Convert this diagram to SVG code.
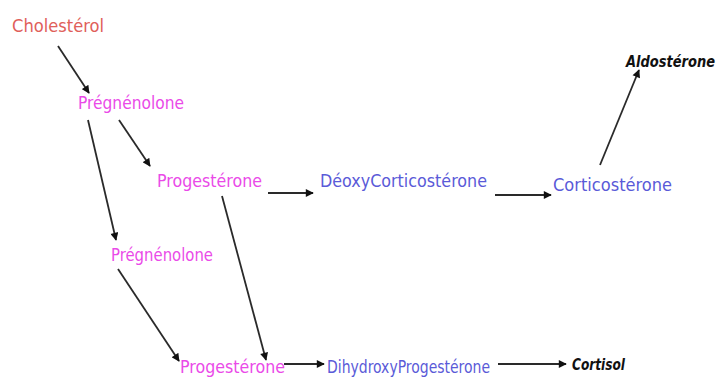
<svg xmlns="http://www.w3.org/2000/svg" width="722" height="384" viewBox="0 0 722 384">
  <style>
    .t { font-family: "DejaVu Sans Condensed", "Liberation Sans", sans-serif; font-size: 17px; }
    .red { fill: #e0605a; }
    .mag { fill: #ea4ae8; }
    .blue { fill: #5a5ad8; }
    .blk { fill: #111; font-weight: bold; font-style: italic; font-size: 15px; }
    .edge { stroke: #2a2a2a; stroke-width: 1.8; fill: none; marker-end: url(#ah); }
  </style>
  <defs>
    <marker id="ah" viewBox="0 0 10 10" refX="9" refY="5" markerWidth="9" markerHeight="8" markerUnits="userSpaceOnUse" orient="auto">
      <path d="M0,0 L10,5 L0,10 z" fill="#111"/>
    </marker>
  </defs>
  <rect width="722" height="384" fill="#fff"/>

  <g id="edges">
    <line class="edge" x1="58" y1="46" x2="89" y2="93"/>
    <line class="edge" x1="119" y1="120" x2="150" y2="166"/>
    <line class="edge" x1="88" y1="120" x2="116" y2="240"/>
    <line class="edge" x1="268" y1="193" x2="313" y2="193"/>
    <line class="edge" x1="495" y1="195" x2="551" y2="195"/>
    <line class="edge" x1="600" y1="165" x2="639" y2="70"/>
    <line class="edge" x1="222" y1="196" x2="266" y2="360"/>
    <line class="edge" x1="118" y1="269" x2="179" y2="361"/>
    <line class="edge" x1="284" y1="364" x2="324" y2="364"/>
    <line class="edge" x1="498" y1="364" x2="566" y2="364"/>
  </g>

  <g id="cholesterol"><text class="t red" x="12" y="32" textLength="92" lengthAdjust="spacingAndGlyphs">Cholestérol</text></g>
  <g id="pregnenolone1"><text class="t mag" x="78" y="109" textLength="106" lengthAdjust="spacingAndGlyphs">Prégnénolone</text></g>
  <g id="progesterone1"><text class="t mag" x="157" y="187" textLength="105" lengthAdjust="spacingAndGlyphs">Progestérone</text></g>
  <g id="deoxycorticosterone"><text class="t blue" x="320" y="187" textLength="167" lengthAdjust="spacingAndGlyphs">DéoxyCorticostérone</text></g>
  <g id="corticosterone"><text class="t blue" x="553" y="191" textLength="119" lengthAdjust="spacingAndGlyphs">Corticostérone</text></g>
  <g id="aldosterone"><text class="t blk" x="626" y="67" textLength="89" lengthAdjust="spacingAndGlyphs">Aldostérone</text></g>
  <g id="pregnenolone2"><text class="t mag" x="111" y="261" textLength="102" lengthAdjust="spacingAndGlyphs">Prégnénolone</text></g>
  <g id="progesterone2"><text class="t mag" x="180" y="373" textLength="105" lengthAdjust="spacingAndGlyphs">Progestérone</text></g>
  <g id="dihydroxyprogesterone"><text class="t blue" x="327" y="373" textLength="163" lengthAdjust="spacingAndGlyphs">DihydroxyProgestérone</text></g>
  <g id="cortisol"><text class="t blk" x="572" y="370" textLength="53" lengthAdjust="spacingAndGlyphs">Cortisol</text></g>
</svg>
